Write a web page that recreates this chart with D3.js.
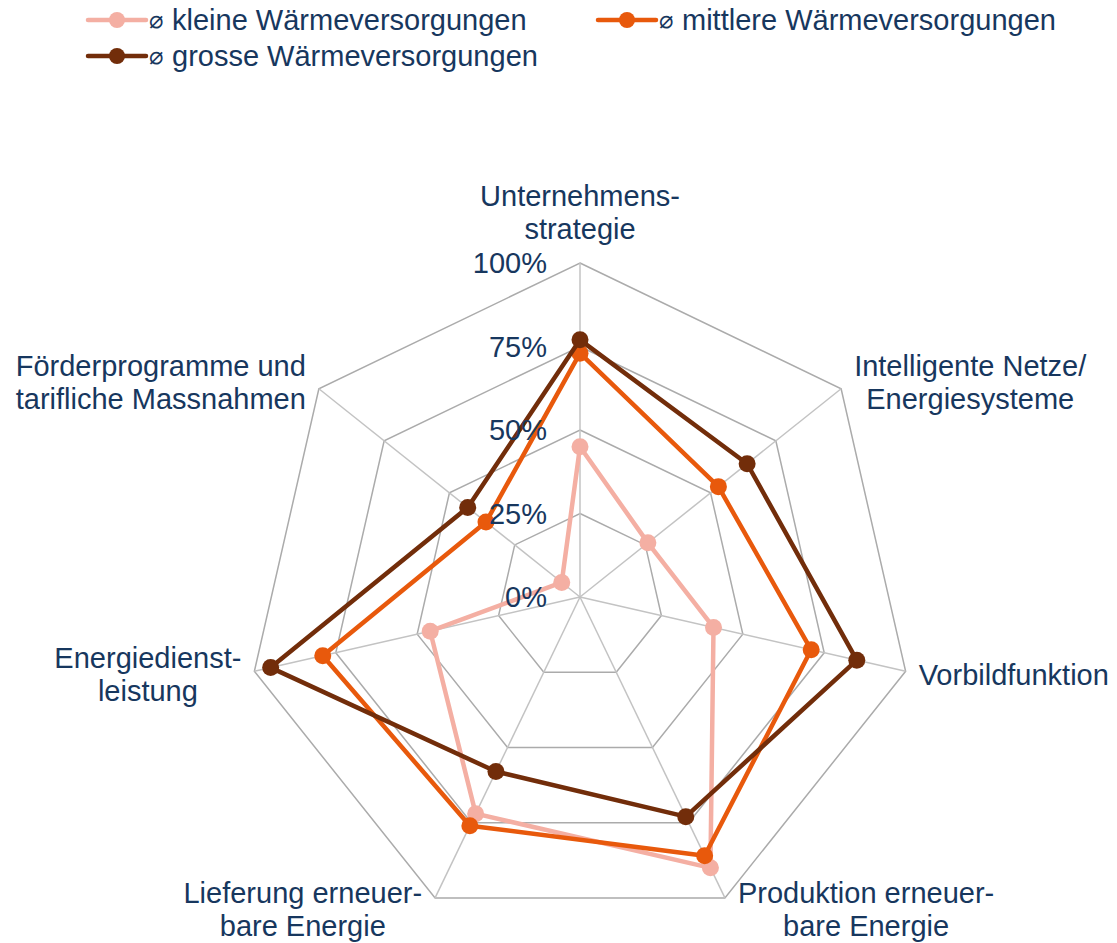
<!DOCTYPE html>
<html>
<head>
<meta charset="utf-8">
<script src="https://cdn.jsdelivr.net/npm/d3@7"></script>
<style>
  body { margin: 0; background: #fff; }
  text { font-family: "Liberation Sans", Arial, sans-serif; fill: #17375E; }
</style>
</head>
<body>
<div id="chart"></div>
<script>
// axes of the radar, clockwise from the top
var categories = [
  "Unternehmens-\nstrategie",
  "Intelligente Netze/\nEnergiesysteme",
  "Vorbildfunktion",
  "Produktion erneuer-\nbare Energie",
  "Lieferung erneuer-\nbare Energie",
  "Energiedienst-\nleistung",
  "Förderprogramme und\ntarifliche Massnahmen"
];
var seriesNames = ["kleine Wärmeversorgungen", "mittlere Wärmeversorgungen", "grosse Wärmeversorgungen"];
var klein  = [45, 26, 41, 90, 72, 46, 7];
var mittel = [73, 53, 71, 86, 76, 79, 36];
var gross  = [77, 64, 85, 73, 58, 95, 43];
var tickValues = [0, 25, 50, 75, 100];
var tickLabels = ["0%", "25%", "50%", "75%", "100%"];

var W = 1117, H = 943;
var cx = 580, cy = 597, R = 334;
var fontSize = 29, lineH = 33;
var colors = ["#F4AFA3", "#E8590C", "#722D0A"];
var allSeries = [klein, mittel, gross];

var svg = d3.select("#chart").append("svg").attr("width", W).attr("height", H);

var r = d3.scaleLinear().domain([0, 100]).range([0, R]);
var ang = d3.scaleLinear().domain([0, categories.length]).range([-Math.PI / 2, 1.5 * Math.PI]);

function pt(i, v) {
  var a = ang(i);
  return [cx + r(v) * Math.cos(a), cy + r(v) * Math.sin(a)];
}

// grid polygons
var grid = svg.append("g");
tickValues.slice(1).forEach(function(t) {
  var pts = categories.map(function(c, i) { return pt(i, t); });
  grid.append("path")
    .attr("d", d3.line()(pts) + "Z")
    .attr("fill", "none").attr("stroke", "#ABABAB").attr("stroke-width", 1.5);
});
// spokes
categories.forEach(function(c, i) {
  var p = pt(i, 100);
  grid.append("line")
    .attr("x1", cx).attr("y1", cy).attr("x2", p[0]).attr("y2", p[1])
    .attr("stroke", "#C3C3C3").attr("stroke-width", 1.5);
});

// series
allSeries.forEach(function(s, k) {
  var pts = s.map(function(v, i) { return pt(i, v); });
  var g = svg.append("g");
  g.append("path")
    .attr("d", d3.line()(pts) + "Z")
    .attr("fill", "none").attr("stroke", colors[k]).attr("stroke-width", 4.5)
    .attr("stroke-linejoin", "round");
  g.selectAll("circle").data(pts).enter().append("circle")
    .attr("cx", function(d) { return d[0]; })
    .attr("cy", function(d) { return d[1]; })
    .attr("r", 8.5).attr("fill", colors[k]);
});

// category labels
categories.forEach(function(c, i) {
  var a = ang(i), p = pt(i, 100);
  var t = svg.append("text").attr("font-size", fontSize).attr("text-anchor", "middle");
  c.split("\n").forEach(function(line, j) {
    t.append("tspan").attr("x", 0).attr("dy", j === 0 ? 0 : lineH).text(line);
  });
  var b = t.node().getBBox();
  var ccx, ccy;
  var ca = Math.cos(a);
  if (Math.abs(ca) < 0.1) {
    ccx = p[0];
    ccy = p[1] - 51;
  } else if (ca > 0) {
    ccx = p[0] + 13 + b.width / 2;
    ccy = p[1] + 12 * Math.sin(a) + 1;
  } else {
    ccx = p[0] - 13 - b.width / 2;
    ccy = p[1] + 12 * Math.sin(a) + 1;
  }
  t.attr("transform", "translate(" + (ccx - (b.x + b.width / 2)) + "," + (ccy - (b.y + b.height / 2)) + ")");
});

// tick labels
tickValues.forEach(function(t, i) {
  svg.append("text")
    .attr("x", cx - 33).attr("y", cy - r(t) + 10)
    .attr("text-anchor", "end").attr("font-size", fontSize)
    .text(tickLabels[i]);
});

// legend
var legendPos = [[88, 20], [598, 20], [88, 56]];
seriesNames.forEach(function(name, k) {
  var x = legendPos[k][0], y = legendPos[k][1];
  var g = svg.append("g");
  g.append("line").attr("x1", x).attr("x2", x + 58).attr("y1", y).attr("y2", y)
    .attr("stroke", colors[k]).attr("stroke-width", 4.5).attr("stroke-linecap", "round");
  g.append("circle").attr("cx", x + 29).attr("cy", y).attr("r", 8).attr("fill", colors[k]);
  g.append("text").attr("x", x + 61).attr("y", y + 8).attr("font-size", 24)
    .style("font-family", "'DejaVu Sans', sans-serif").text("\u2300");
  g.append("text").attr("x", x + 84).attr("y", y + 10).attr("font-size", fontSize).text(name);
});
</script>
</body>
</html>
